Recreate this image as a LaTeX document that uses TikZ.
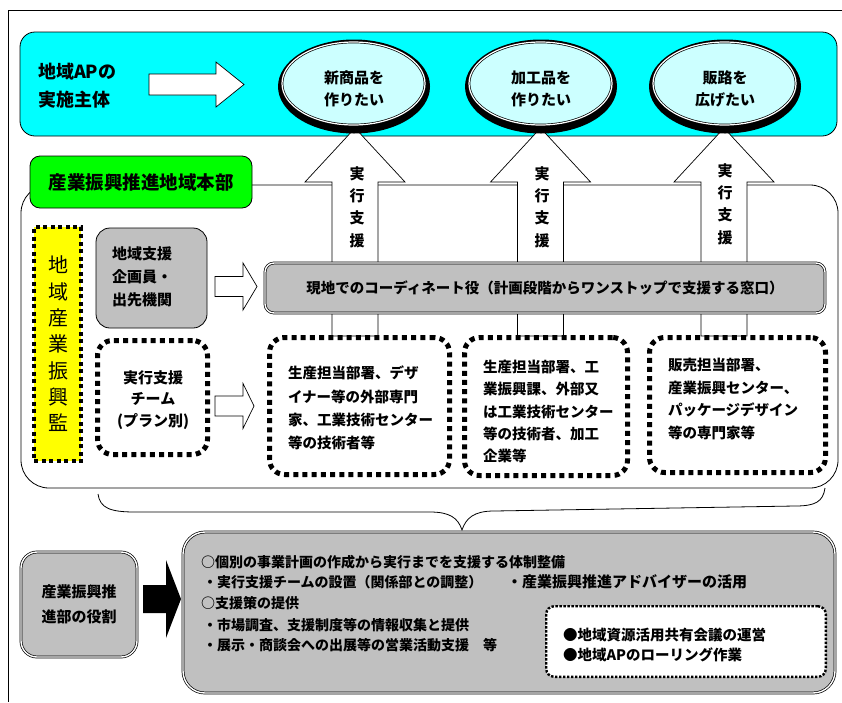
\documentclass[tikz,border=0pt]{standalone}
\usepackage{fontspec}
\setmainfont{Noto Sans CJK JP}
\newfontfamily\jpfam{Noto Sans CJK JP}
\usetikzlibrary{shapes.geometric}

\definecolor{planbg}{HTML}{00FFFF}
\definecolor{wishbg}{HTML}{CCFFFF}
\definecolor{hqgreen}{HTML}{00FF00}
\definecolor{panelgray}{HTML}{C0C0C0}
\definecolor{markyellow}{HTML}{FFFF00}

\newcommand\jpb[2]{\jpfam\bfseries\fontsize{#1}{#2}\selectfont}
\newcommand\jpr[2]{\jpfam\fontsize{#1}{#2}\selectfont}

\begin{document}
\begin{tikzpicture}[x=1pt,y=-1pt,
  every node/.style={inner sep=0pt,outer sep=0pt},
  thinline/.style={draw=black,line width=0.8pt},
  roundbox/.style={draw=black,line width=0.8pt,rounded corners=#1},
  dblbox/.style={draw=black,line width=0.7pt,double=white,double distance=1.4pt,fill=panelgray,rounded corners=#1},
  bigdots/.style={draw=black,line width=5pt,dash pattern=on 5pt off 4.2pt,fill=white,rounded corners=15pt},
  finedots/.style={draw=black,line width=2.4pt,dash pattern=on 2.4pt off 1.6pt,fill=white,rounded corners=8pt},
  yellowdots/.style={draw=black,line width=4pt,dash pattern=on 4pt off 3.5pt,fill=markyellow},
  blockarrow/.style={draw=black,line width=0.7pt,fill=white,line join=miter},
  wish/.style={ellipse,draw=black,line width=0.7pt,double=white,double distance=1.2pt,fill=wishbg,minimum width=143pt,minimum height=83pt},
  wishshadow/.style={ellipse,fill=black,minimum width=152pt,minimum height=94pt},
  wishtext/.style={align=center,font=\jpb{15}{22}},
  supporttext/.style={align=center,font=\jpb{15}{22.4}},
  boxtext/.style={anchor=west,align=left,font=\jpb{14.5}{#1}},
  bodyline/.style={anchor=base west,font=\jpb{14}{20}},
]
\useasboundingbox (0,0) rectangle (842,702);

% outer frame edge
\draw[thinline] (842,10) -- (8,10) -- (8,702);

% ---- top band: the implementing bodies and their wishes
\node[roundbox=15pt,fill=planbg,minimum width=817pt,minimum height=104pt] (plan) at (428.5,84) {};
\node[anchor=west,align=left,font=\jpb{18}{28}] (planlbl) at (38,86) {地域APの\\実施主体};
\coordinate (pa) at (149,84.5);
\draw[blockarrow,shift={(pa)}] (0,-10.5) -- (67,-10.5) -- (67,-22.5) -- (95,0) -- (67,22.5) -- (67,10.5) -- (0,10.5) -- cycle;

% ---- middle panel: regional headquarters
\node[roundbox=28pt,fill=white,minimum width=817pt,minimum height=303pt] (hqarea) at (429.5,336.5) {};

% upward support arrows
\foreach \cx/\nm in {355/u1,540.5/u2,724/u3}{
  \coordinate (\nm) at (\cx,128);
  \draw[blockarrow,shift={(\nm)}] (0,0) -- (50,54) -- (23,54) -- (23,208) -- (-23,208) -- (-23,54) -- (-50,54) -- cycle;
}
\node[supporttext] (s1) at (357,207) {実\\行\\支\\援};
\node[supporttext] (s2) at (542,207) {実\\行\\支\\援};
\node[supporttext] (s3) at (725,204) {実\\行\\支\\援};

% wishes
\node[wishshadow] (w1s) at (354,86.5) {};
\node[wish] (w1) at (353.5,83.5) {};
\node[wishtext] (w1t) at (354,89) {新商品を\\作りたい};
\node[wishshadow] (w2s) at (541,86.5) {};
\node[wish] (w2) at (540.5,83.5) {};
\node[wishtext] (w2t) at (541,89) {加工品を\\作りたい};
\node[wishshadow] (w3s) at (725,86.5) {};
\node[wish] (w3) at (724.5,83.5) {};
\node[wishtext] (w3t) at (725,89) {販路を\\広げたい};

% headquarters tab
\node[roundbox=10pt,fill=hqgreen,minimum width=222pt,minimum height=52pt,font=\jpb{18.5}{20}] (hq) at (141,182) {産業振興推進地域本部};

% supervisor column
\node[yellowdots,minimum width=47pt,minimum height=234pt] (kan) at (57.5,344) {};
\node[align=center,font=\jpr{20}{26.3}] (kant) at (58,344) {地\\域\\産\\業\\振\\興\\監};

% local staff and implementation team
\node[roundbox=14pt,fill=panelgray,minimum width=111pt,minimum height=100pt] (local) at (151.5,278) {};
\node[anchor=west,align=left,font=\jpb{15}{23}] (localt) at (112,277) {地域支援\\企画員・\\出先機関};
\node[bigdots,minimum width=110pt,minimum height=114pt] (team) at (152.5,397.5) {};
\node[align=center,font=\jpb{15}{21.5}] (teamt) at (153,400) {実行支援\\チーム\\(プラン別)};

\coordinate (ra) at (215,286.5);
\draw[blockarrow,shift={(ra)}] (0,-10) -- (28,-10) -- (28,-23.5) -- (42,0) -- (28,23.5) -- (28,10) -- (0,10) -- cycle;
\coordinate (rb) at (215,406);
\draw[blockarrow,shift={(rb)}] (0,-10) -- (28,-10) -- (28,-22.5) -- (39,0) -- (28,22.5) -- (28,10) -- (0,10) -- cycle;

% coordinator bar
\node[dblbox=9pt,minimum width=560pt,minimum height=50pt,font=\jpb{14.5}{16}] (bar) at (545,288) {現地でのコーディネート役（計画段階からワンストップで支援する窓口）};

% expert groups
\node[bigdots,minimum width=180pt,minimum height=137pt] (ga) at (359.5,406) {};
\node[bigdots,minimum width=163pt,minimum height=138pt] (gb) at (546,406.5) {};
\node[bigdots,minimum width=176pt,minimum height=135pt] (gc) at (737.5,405) {};
\node[boxtext=23.3] (gat) at (288,408) {生産担当部署、デザ\\イナー等の外部専門\\家、工業技術センター\\等の技術者等};
\node[boxtext=22.3] (gbt) at (483,411.5) {生産担当部署、工\\業振興課、外部又\\は工業技術センター\\等の技術者、加工\\企業等};
\node[boxtext=22.7] (gct) at (668,399) {販売担当部署、\\産業振興センター、\\パッケージデザイン\\等の専門家等};

% brace gathering the panel
\draw[thinline] (98,494) .. controls (100,508) and (110,512) .. (135,512) -- (430,512)
  .. controls (450,512) and (458,518) .. (462,530)
  .. controls (466,518) and (474,511) .. (494,511) -- (795,506)
  .. controls (815,506) and (823,502) .. (825,488);

% ---- bottom: role of the promotion department
\node[dblbox=16pt,minimum width=116pt,minimum height=105pt,align=center,font=\jpb{15}{25}] (role) at (79,604.5) {産業振興推\\進部の役割};
\coordinate (ka) at (143,599);
\fill[black,shift={(ka)}] (0,-14) -- (23,-14) -- (23,-39) -- (38,0) -- (23,39) -- (23,14) -- (0,14) -- cycle;
\node[dblbox=22pt,minimum width=652pt,minimum height=161pt] (duty) at (509,612.5) {};

\node[bodyline] (l1) at (201,567) {○個別の事業計画の作成から実行までを支援する体制整備};
\node[bodyline] (l2) at (203,587) {・実行支援チームの設置（関係部との調整）};
\node[bodyline,font=\jpb{15}{20}] (l2b) at (507,587) {・産業振興推進アドバイザーの活用};
\node[bodyline] (l3) at (201,608) {○支援策の提供};
\node[bodyline] (l4) at (203,630) {・市場調査、支援制度等の情報収集と提供};
\node[bodyline] (l5) at (203,650) {・展示・商談会への出展等の営業活動支援　等};

\node[finedots,minimum width=279.6pt,minimum height=70.6pt] (meet) at (686,641.5) {};
\node[bodyline,font=\jpb{14.5}{20}] (m1) at (563,640) {●地域資源活用共有会議の運営};
\node[bodyline,font=\jpb{14.5}{20}] (m2) at (563,660) {●地域APのローリング作業};
\end{tikzpicture}
\end{document}
